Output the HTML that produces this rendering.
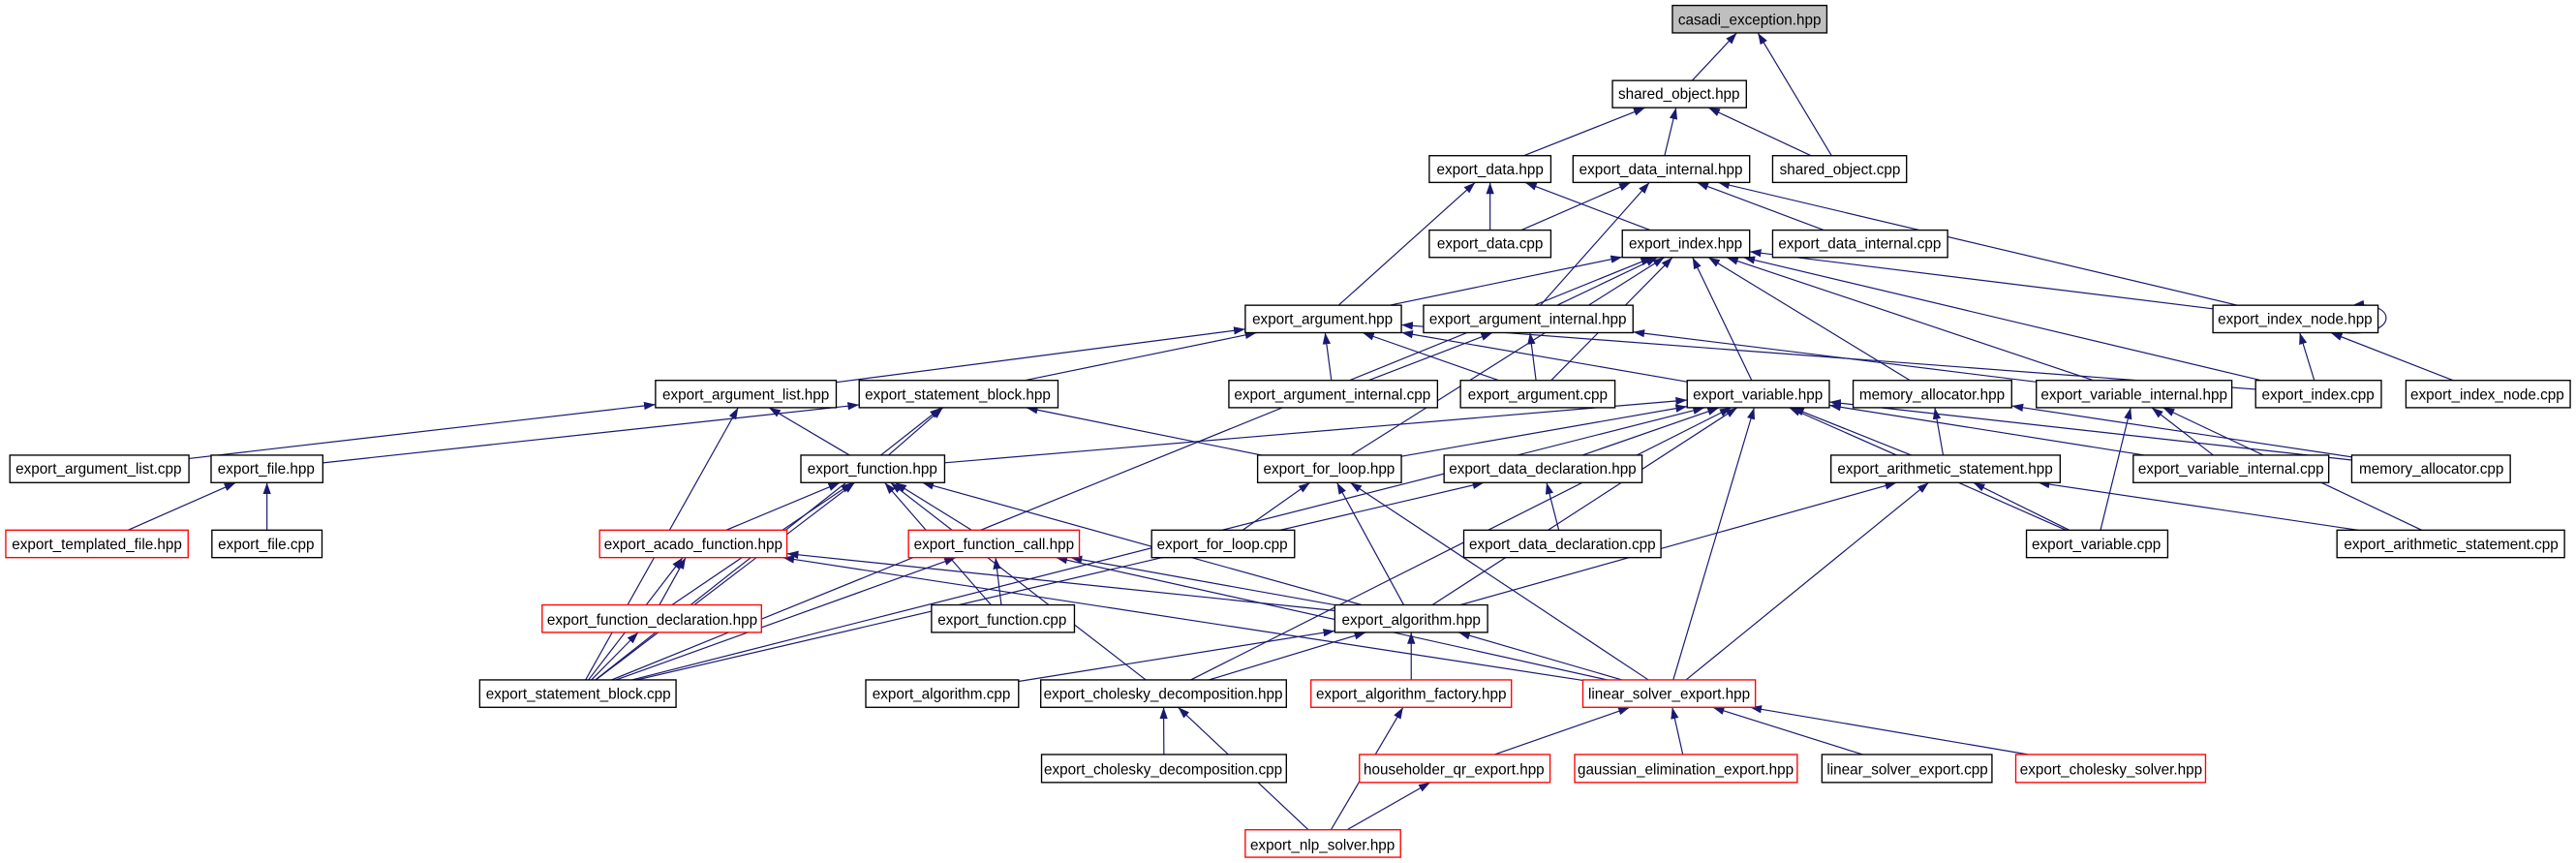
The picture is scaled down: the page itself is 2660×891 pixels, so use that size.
<!DOCTYPE html>
<html><head><meta charset="utf-8"><style>
html,body{margin:0;padding:0;background:#fff;}
svg{display:block;}
text{font-family:"Liberation Sans",sans-serif;font-size:9px;fill:#000;}
</style></head><body>
<svg id="g" width="2660" height="891" viewBox="0 0 1568 525" preserveAspectRatio="none" xmlns="http://www.w3.org/2000/svg">
<defs><marker id="a" viewBox="0 0 10 10" refX="10" refY="5" markerWidth="7" markerHeight="7" markerUnits="userSpaceOnUse" orient="auto"><path d="M0,1.5 L10,5 L0,8.5 z" fill="#191970"/></marker></defs>
<g id="edges" fill="none" stroke="#191970" stroke-width="0.7"></g>
<g id="nodes"></g>
<g id="labels">
<text x="1065" y="15" text-anchor="middle">casadi_exception.hpp</text>
<text x="1022" y="60" text-anchor="middle">shared_object.hpp</text>
<text x="907" y="106" text-anchor="middle">export_data.hpp</text>
<text x="1011" y="106" text-anchor="middle">export_data_internal.hpp</text>
<text x="1120" y="106" text-anchor="middle">shared_object.cpp</text>
<text x="907" y="151" text-anchor="middle">export_data.cpp</text>
<text x="1026" y="151" text-anchor="middle">export_index.hpp</text>
<text x="1132" y="151" text-anchor="middle">export_data_internal.cpp</text>
<text x="805" y="197" text-anchor="middle">export_argument.hpp</text>
<text x="930" y="197" text-anchor="middle">export_argument_internal.hpp</text>
<text x="1397" y="197" text-anchor="middle">export_index_node.hpp</text>
<text x="454" y="243" text-anchor="middle">export_argument_list.hpp</text>
<text x="583" y="243" text-anchor="middle">export_statement_block.hpp</text>
<text x="811" y="243" text-anchor="middle">export_argument_internal.cpp</text>
<text x="936" y="243" text-anchor="middle">export_argument.cpp</text>
<text x="1070" y="243" text-anchor="middle">export_variable.hpp</text>
<text x="1176" y="243" text-anchor="middle">memory_allocator.hpp</text>
<text x="1299" y="243" text-anchor="middle">export_variable_internal.hpp</text>
<text x="1411" y="243" text-anchor="middle">export_index.cpp</text>
<text x="1514" y="243" text-anchor="middle">export_index_node.cpp</text>
<text x="60" y="288" text-anchor="middle">export_argument_list.cpp</text>
<text x="162" y="288" text-anchor="middle">export_file.hpp</text>
<text x="531" y="288" text-anchor="middle">export_function.hpp</text>
<text x="809" y="288" text-anchor="middle">export_for_loop.hpp</text>
<text x="939" y="288" text-anchor="middle">export_data_declaration.hpp</text>
<text x="1184" y="288" text-anchor="middle">export_arithmetic_statement.hpp</text>
<text x="1358" y="288" text-anchor="middle">export_variable_internal.cpp</text>
<text x="1480" y="288" text-anchor="middle">memory_allocator.cpp</text>
<text x="59" y="334" text-anchor="middle">export_templated_file.hpp</text>
<text x="162" y="334" text-anchor="middle">export_file.cpp</text>
<text x="422" y="334" text-anchor="middle">export_acado_function.hpp</text>
<text x="605" y="334" text-anchor="middle">export_function_call.hpp</text>
<text x="744" y="334" text-anchor="middle">export_for_loop.cpp</text>
<text x="951" y="334" text-anchor="middle">export_data_declaration.cpp</text>
<text x="1276" y="334" text-anchor="middle">export_variable.cpp</text>
<text x="1492" y="334" text-anchor="middle">export_arithmetic_statement.cpp</text>
<text x="397" y="380" text-anchor="middle">export_function_declaration.hpp</text>
<text x="610" y="380" text-anchor="middle">export_function.cpp</text>
<text x="859" y="380" text-anchor="middle">export_algorithm.hpp</text>
<text x="352" y="425" text-anchor="middle">export_statement_block.cpp</text>
<text x="573" y="425" text-anchor="middle">export_algorithm.cpp</text>
<text x="708" y="425" text-anchor="middle">export_cholesky_decomposition.hpp</text>
<text x="859" y="425" text-anchor="middle">export_algorithm_factory.hpp</text>
<text x="1016" y="425" text-anchor="middle">linear_solver_export.hpp</text>
<text x="708" y="471" text-anchor="middle">export_cholesky_decomposition.cpp</text>
<text x="885" y="471" text-anchor="middle">householder_qr_export.hpp</text>
<text x="1026" y="471" text-anchor="middle">gaussian_elimination_export.hpp</text>
<text x="1161" y="471" text-anchor="middle">linear_solver_export.cpp</text>
<text x="1285" y="471" text-anchor="middle">export_cholesky_solver.hpp</text>
<text x="805" y="517" text-anchor="middle">export_nlp_solver.hpp</text>
</g>
</svg>
<script>
var R1=[3.3,20],R2=[49,65.5],R3=[94.7,111],R4=[140,156.6],R5=[185.7,202.4],R6=[231.4,248],R7=[276.9,293.6],R8=[322.5,339.2],R9=[368,384.7],R10=[413.6,430.3],R11=[459,476],R12=[504.8,521.5];
var N={
ce:[1018,1112,R1,'g'],soh:[981.5,1063,R2],dh:[870,944,R3],dih:[957.5,1065,R3],soc:[1079,1160.5,R3],
dc:[870,944,R4],ih:[987.5,1065,R4],dic:[1079,1185.5,R4],
ah:[758,853,R5],aih:[866.5,994,R5],inh:[1347,1447.5,R5],
alh:[399,509,R6],sbh:[523,644,R6],aic:[748,875,R6],ac:[889,983,R6],vh:[1027,1113.5,R6],mah:[1128,1224.5,R6],vih:[1239.5,1358.5,R6],ic:[1373,1449.5,R6],inc:[1464.5,1564.5,R6],
alc:[6,115,R7],fh:[128.5,196.5,R7],fuh:[487.5,575,R7],flh:[765.5,853,R7],ddh:[879,999.5,R7],ash:[1114.5,1254,R7],vic:[1298.5,1417.5,R7],mac:[1431.5,1528,R7],
tfh:[3.5,114.5,R8,'r'],fc:[129,196,R8],afh:[365,479,R8,'r'],fch:[553,657,R8,'r'],flc:[701,788,R8],ddc:[891,1011,R8],vc:[1233.5,1319.5,R8],asc:[1422.5,1561,R8],
fdh:[330,463.5,R9,'r'],fuc:[567,654,R9],agh:[812.5,905.5,R9],
sbc:[292,411.5,R10],agc:[527,620,R10],cdh:[633.5,783,R10],afy:[798,920,R10,'r'],lsh:[963.5,1068.5,R10,'r'],
cdc:[634,783,R11],hq:[827.5,943.5,R11,'r'],ge:[958.5,1094,R11,'r'],lsc:[1109,1212.5,R11],cs:[1227,1342.5,R11,'r'],
nlp:[758,852.5,R12,'r']};
var ns='http://www.w3.org/2000/svg';
var ng=document.getElementById('nodes'),eg=document.getElementById('edges');
for(var k in N){var n=N[k];var r=document.createElementNS(ns,'rect');r.setAttribute('x',n[0]);r.setAttribute('y',n[2][0]);r.setAttribute('width',n[1]-n[0]);r.setAttribute('height',n[2][1]-n[2][0]);
r.setAttribute('fill',n[3]=='g'?'#bfbfbf':'#fff');r.setAttribute('stroke',n[3]=='r'?'#ff0000':'#000');r.setAttribute('stroke-width','0.8');ng.appendChild(r);}
var E=[['soh','ce'],['soc','ce'],['dh','soh'],['dih','soh'],['soc','soh'],['dc','dh'],['dc','dih'],['ih','dh'],['ah','dh'],['dic','dih'],['aih','dih'],['inh','dih'],
['ah','ih'],['aih','ih'],['flh','ih'],['ac','ih'],['vh','ih'],['mah','ih'],['vih','ih'],['ic','ih'],['inh','ih'],['ic','inh'],['inc','inh'],
['alh','ah'],['sbh','ah'],['aic','ah'],['ac','ah'],['vh','ah'],['ic','ah'],['aic','aih'],['ac','aih'],['vih','aih'],
['alc','alh'],['fuh','alh'],['sbc','alh'],['fh','sbh'],['fuh','sbh'],['flh','sbh'],['sbc','sbh'],
['fuh','vh'],['flh','vh'],['ddh','vh'],['ash','vh'],['agh','vh'],['lsh','vh'],['cdh','vh'],['vc','vh'],['vic','vh'],['mac','vh'],['sbc','vh'],
['ash','mah'],['mac','mah'],['vic','vih'],['vc','vih'],['asc','vih'],
['tfh','fh'],['fc','fh'],['afh','fuh'],['fch','fuh'],['fdh','fuh'],['sbc','fuh'],['fuc','fuh'],['cdh','fuh'],['agh','fuh'],
['flc','flh'],['agh','flh'],['lsh','flh'],['ddc','ddh'],['sbc','ddh'],['agh','ash'],['lsh','ash'],['vc','ash'],['asc','ash'],
['fdh','afh'],['sbc','afh'],['agh','afh'],['lsh','afh'],['fuc','fch'],['sbc','fch'],['agh','fch'],['lsh','fch'],['sbc','fdh'],
['agc','agh'],['cdh','agh'],['afy','agh'],['lsh','agh'],['cdc','cdh'],['nlp','cdh'],['nlp','afy'],
['hq','lsh'],['ge','lsh'],['lsc','lsh'],['cs','lsh'],['nlp','hq'],['sbc','ih']];
function clip(n,px,py,qx,qy){var cx=(n[0]+n[1])/2,cy=(n[2][0]+n[2][1])/2,hw=(n[1]-n[0])/2,hh=(n[2][1]-n[2][0])/2;var dx=qx-cx,dy=qy-cy;var t=Math.min(dx?hw/Math.abs(dx):1e9,dy?hh/Math.abs(dy):1e9);return [cx+dx*t,cy+dy*t];}
E.forEach(function(e){var s=N[e[0]],t=N[e[1]];var sc=[(s[0]+s[1])/2,(s[2][0]+s[2][1])/2],tc=[(t[0]+t[1])/2,(t[2][0]+t[2][1])/2];
var p=clip(s,0,0,tc[0],tc[1]),q=clip(t,0,0,sc[0],sc[1]);
var l=document.createElementNS(ns,'line');l.setAttribute('x1',p[0]);l.setAttribute('y1',p[1]);l.setAttribute('x2',q[0]);l.setAttribute('y2',q[1]);l.setAttribute('marker-end','url(#a)');eg.appendChild(l);});
var sl=document.createElementNS(ns,'path');sl.setAttribute('d','M1427,202.4 C1460,205 1460,183 1432,185.7');sl.setAttribute('marker-end','url(#a)');eg.appendChild(sl);
</script>
</body></html>
